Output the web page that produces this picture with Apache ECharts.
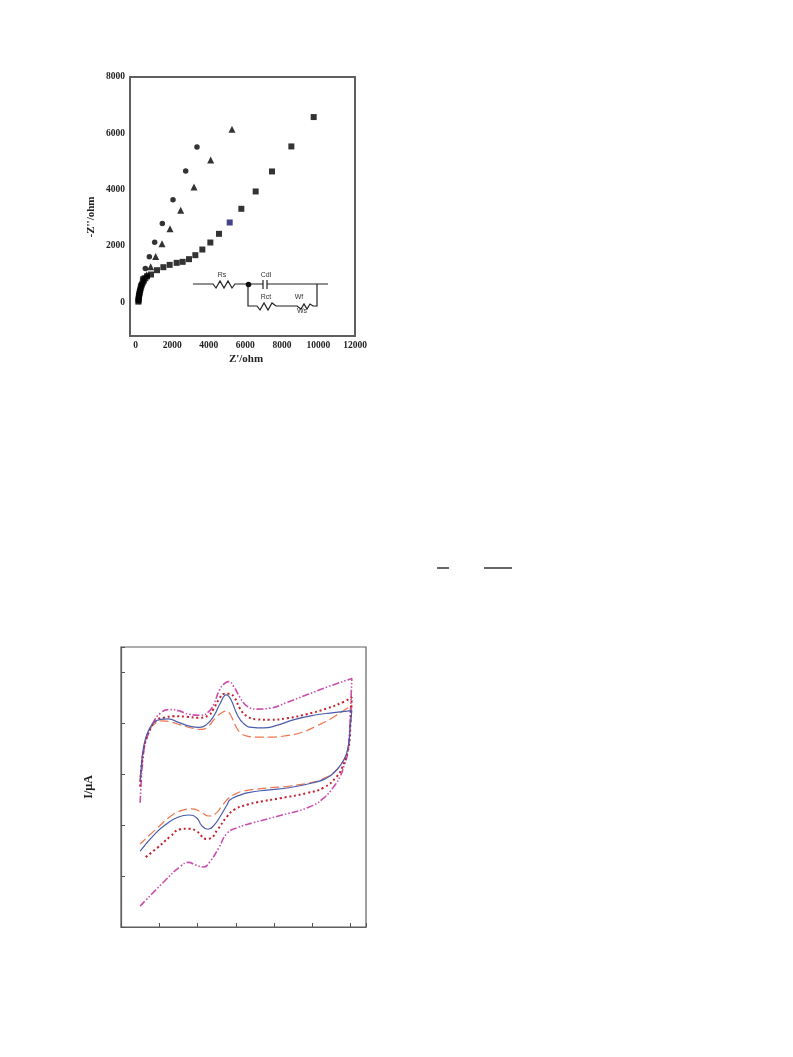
<!DOCTYPE html>
<html>
<head>
<meta charset="utf-8">
<title>Impedance and CV</title>
<style>
  html, body { margin: 0; padding: 0; background: #fff; }
  #chart { width: 793px; height: 1057px; }
</style>
</head>
<body>
<div id="chart"></div>
<script src="https://cdn.jsdelivr.net/npm/echarts@6/dist/echarts.min.js"></script>
<script>
// Nyquist plot: [Z', -Z''] in ohm
const nyquistCircles = [[3354,5510],[2736,4657],[2043,3638],[1459,2797],[1040,2133],[748,1612],[529,1197],[383,853],[300,620],[250,440],[210,280],[180,140]];
const nyquistTriangles = [[5269,6140],[4104,5050],[3192,4090],[2462,3270],[1879,2607],[1441,2074],[1094,1624],[821,1256],[602,972]];
const nyquistSquares = [[9740,6577],[8518,5534],[7460,4645],[6566,3934],[5782,3318],[5144,2832],[4560,2429],[4086,2121],[3648,1872],[3265,1671],[2918,1529],[2572,1434],[2243,1398],[1860,1327],[1514,1244],[1167,1138],[839,984],[620,920],[530,850],[450,770],[390,700],[340,630],[300,560],[270,490],[245,420],[220,350],[200,290],[185,230],[170,170],[160,110],[155,60],[150,20]];
const nyquistHighlight = [5144, 2832];
const zTicksX = [0, 2000, 4000, 6000, 8000, 10000, 12000];
const zTicksY = [0, 2000, 4000, 6000, 8000];

// CV curves: [E, I], anodic sweep then cathodic sweep (no scale printed on the figure)
const cvBlue = [[50,286],[53,315],[57,344],[63,367],[72,386],[85,401],[103,408],[124,409],[150,402],[181,394],[205,392],[224,398],[242,414],[259,439],[275,456],[287,447],[303,418],[320,400],[342,392],[372,391],[407,396],[450,407],[503,416],[555,421],[603,425],
  [598,387],[595,361],[588,338],[577,322],[555,302],[533,291],[511,285],[442,274],[381,269],[333,264],[311,259],[285,250],[277,240],[259,217],[242,199],[227,192],[211,199],[198,214],[177,220],[150,216],[120,203],[90,184],[50,149]];
const cvOrange = [[50,289],[55,322],[63,361],[72,384],[85,397],[107,405],[129,403],[155,397],[190,390],[211,388],[229,395],[246,410],[263,421],[275,424],[285,418],[298,397],[311,382],[329,375],[355,373],[390,373],[433,376],[472,382],[511,395],[546,408],[581,425],[603,436],
  [598,387],[595,361],[588,338],[577,322],[555,303],[533,293],[511,286],[442,277],[381,273],[320,267],[298,261],[281,253],[263,237],[246,222],[229,218],[207,227],[185,232],[159,229],[129,217],[94,194],[50,163]];
const cvRed = [[50,276],[53,312],[59,348],[65,367],[77,390],[94,407],[111,411],[137,414],[172,413],[203,411],[229,416],[242,429],[255,446],[270,458],[283,458],[296,451],[311,429],[329,414],[355,408],[390,407],[433,410],[485,418],[537,429],[581,442],[603,451],
  [600,413],[597,367],[592,344],[577,312],[563,295],[530,274],[485,263],[416,253],[355,245],[333,241],[297,231],[277,217],[252,191],[233,174],[223,173],[198,188],[177,193],[155,192],[129,178],[94,155],[59,134]];
const cvMagenta = [[50,244],[53,289],[57,328],[63,361],[72,380],[85,403],[103,420],[124,427],[150,425],[177,418],[207,416],[229,423],[243,439],[257,465],[270,478],[281,482],[294,473],[310,452],[329,434],[355,428],[390,430],[433,441],[485,456],[537,471],[603,488],
  [600,433],[597,380],[592,341],[585,322],[572,295],[559,279],[529,253],[490,235],[416,219],[346,205],[303,195],[277,184],[255,155],[233,129],[216,118],[194,122],[177,127],[155,119],[111,88],[50,41]];

const frameColor = '#5f5f5f';
const serif = '"Liberation Serif", "DejaVu Serif", serif';

// small helpers for the equivalent circuit inset, drawn as plain page graphics
const wire = (points, width = 1.2, color = '#222') => ({
    type: 'polyline',
    shape: { points },
    style: { stroke: color, fill: null, lineWidth: width }
});
const label = (x, y, text) => ({
    type: 'text',
    x, y,
    style: { text, fill: '#333', font: '7px "Liberation Sans", sans-serif', align: 'center', verticalAlign: 'middle' }
});
const axisTitle = (x, y, text, rotation = 0) => ({
    type: 'text',
    x, y, rotation,
    style: { text, fill: '#222', font: 'bold 11px ' + serif, align: 'center', verticalAlign: 'middle' }
});

const circuit = [
    wire([[193,284],[213,284],[216,288],[220,281],[224,288],[228,281],[232,288],[235,284],[263,284]]),
    wire([[267,284],[328,284]]),
    wire([[263,280],[263,289]]),
    wire([[267,280],[267,289]]),
    wire([[248,284],[248,306],[257,306],[260,310],[264,303],[268,310],[272,303],[276,306],[297,306],[301,309],[304,304],[307,309],[310,304],[313,306],[317,306],[317,284]]),
    { type: 'circle', shape: { cx: 248.5, cy: 284.5, r: 2.8 }, style: { fill: '#111' } },
    label(222, 275, 'Rs'),
    label(266, 275, 'Cdl'),
    label(266, 297, 'Rct'),
    label(299, 297, 'Wf'),
    label(302, 311, 'Ws')
];

const titles = [
    axisTitle(246, 359, "Z'/ohm"),
    axisTitle(91, 217, "-Z''/ohm", Math.PI / 2)
];

// stray fraction bars of the page's equation
const fractionBars = [
    wire([[437,568],[449,568]], 1.2, '#000'),
    wire([[484,568],[512,568]], 1.2, '#000')
];

const chart = echarts.init(document.getElementById('chart'));

const tickStyle = { fontFamily: serif, fontWeight: 'bold', fontSize: 9.5, color: '#222', formatter: v => String(v) };

chart.setOption({
    animation: false,
    backgroundColor: '#fff',
    grid: [
        { left: 130, top: 77, width: 225, height: 259, show: true, borderColor: frameColor, borderWidth: 2 },
        { left: 121, top: 647, width: 245, height: 280, show: true, borderColor: frameColor, borderWidth: 1.2 }
    ],
    xAxis: [
        {
            gridIndex: 0, type: 'value', min: -310, max: 12000,
            splitLine: { show: false },
            axisLine: { onZero: false, lineStyle: { color: frameColor, width: 2 } },
            axisTick: { show: false },
            axisLabel: { customValues: zTicksX, margin: 5, ...tickStyle }
        },
        {
            gridIndex: 1, type: 'value', min: 0, max: 640, interval: 100,
            splitLine: { show: false },
            axisLine: { onZero: false, lineStyle: { color: frameColor, width: 1.2 } },
            axisTick: { inside: true, length: 4, lineStyle: { color: '#555', width: 1 } },
            axisLabel: { show: false }
        }
    ],
    yAxis: [
        {
            gridIndex: 0, type: 'value', min: -1200, max: 8000,
            splitLine: { show: false },
            axisLine: { onZero: false, lineStyle: { color: frameColor, width: 2 } },
            axisTick: { show: false },
            axisLabel: { customValues: zTicksY, margin: 5, ...tickStyle }
        },
        {
            gridIndex: 1, type: 'value', min: 0, max: 550, interval: 100,
            name: 'I/µA', nameLocation: 'middle', nameGap: 26, nameRotate: 90,
            nameTextStyle: { fontFamily: serif, fontWeight: 'bold', fontSize: 12, color: '#222' },
            splitLine: { show: false },
            axisLine: { onZero: false, lineStyle: { color: frameColor, width: 1.2 } },
            axisTick: { inside: true, length: 4, lineStyle: { color: '#555', width: 1 } },
            axisLabel: { show: false }
        }
    ],
    series: [
        { type: 'scatter', xAxisIndex: 0, yAxisIndex: 0, symbol: 'circle', symbolSize: 5.5, itemStyle: { color: '#000' }, data: nyquistCircles },
        { type: 'scatter', xAxisIndex: 0, yAxisIndex: 0, symbol: 'triangle', symbolSize: 7, itemStyle: { color: '#000' }, data: nyquistTriangles },
        {
            type: 'scatter', xAxisIndex: 0, yAxisIndex: 0, symbol: 'rect', symbolSize: 6, itemStyle: { color: '#000' },
            data: nyquistSquares.map(p => p[0] === nyquistHighlight[0]
                ? { value: p, itemStyle: { color: '#14146e' } }
                : p)
        },
        { type: 'line', xAxisIndex: 1, yAxisIndex: 1, data: cvOrange, smooth: 0.5, showSymbol: false, lineStyle: { color: '#f0754f', width: 1.2, type: [9, 4] } },
        { type: 'line', xAxisIndex: 1, yAxisIndex: 1, data: cvMagenta, smooth: 0.5, showSymbol: false, lineStyle: { color: '#c94fae', width: 1.6, type: [7, 2, 1.5, 2, 1.5, 2] } },
        { type: 'line', xAxisIndex: 1, yAxisIndex: 1, data: cvRed, smooth: 0.5, showSymbol: false, lineStyle: { color: '#c2202c', width: 2, type: [2, 2.8] } },
        { type: 'line', xAxisIndex: 1, yAxisIndex: 1, data: cvBlue, smooth: 0.5, showSymbol: false, lineStyle: { color: '#4a5cab', width: 1.2 } }
    ],
    graphic: { elements: [...titles, ...circuit, ...fractionBars] }
});

window.addEventListener('resize', () => chart.resize());
</script>
</body>
</html>
